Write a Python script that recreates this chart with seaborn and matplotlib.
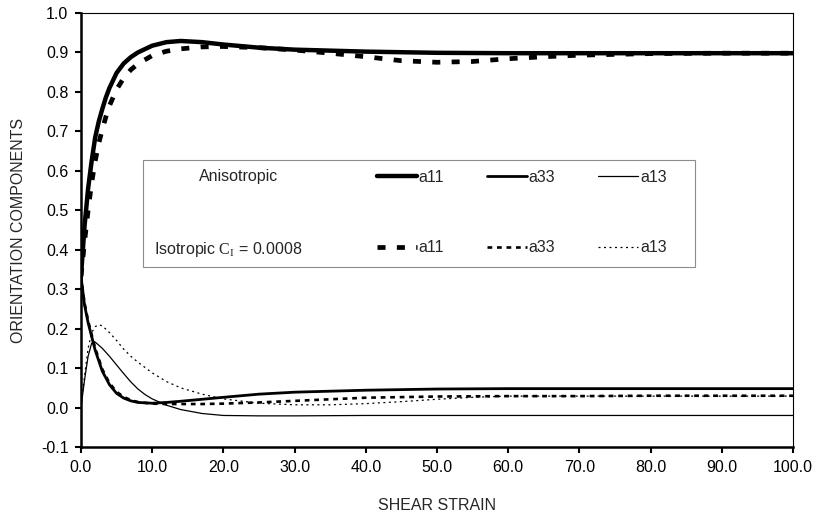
import numpy as np
import pandas as pd
import matplotlib
matplotlib.use("Agg")
import matplotlib.pyplot as plt
import seaborn as sns
from matplotlib.patches import Rectangle

# ---------------- data ----------------
x_aniso_a11 = [0, 0.5, 1, 1.5, 2, 2.5, 3, 3.5, 4, 5, 6, 7, 8, 10, 12, 14, 17, 20, 25, 30, 40, 50, 60, 70, 80, 90, 100]
y_aniso_a11 = [0.333, 0.46, 0.555, 0.625, 0.685, 0.725, 0.757, 0.786, 0.81, 0.848, 0.872, 0.888, 0.90, 0.917,
               0.926, 0.929, 0.926, 0.920, 0.912, 0.907, 0.902, 0.899, 0.898, 0.898, 0.898, 0.898, 0.898]

x_iso_a11 = [0, 0.5, 1, 1.5, 2, 2.5, 3, 3.5, 4, 5, 6, 7, 8, 10, 12, 14, 17, 20, 25, 30, 35, 40, 45, 50, 55, 60, 65,
             70, 80, 90, 100]
y_iso_a11 = [0.333, 0.42, 0.50, 0.57, 0.625, 0.67, 0.705, 0.737, 0.765, 0.806, 0.835, 0.856, 0.871, 0.892, 0.903,
             0.909, 0.914, 0.915, 0.912, 0.906, 0.898, 0.889, 0.879, 0.875, 0.877, 0.884, 0.889, 0.893, 0.897,
             0.898, 0.898]

x_aniso_a33 = [0, 0.5, 1, 1.5, 2, 3, 4, 5, 6, 7, 8, 10, 12, 14, 17, 20, 25, 30, 40, 50, 60, 70, 80, 90, 100]
y_aniso_a33 = [0.333, 0.26, 0.215, 0.18, 0.145, 0.092, 0.058, 0.036, 0.024, 0.017, 0.013, 0.011, 0.013, 0.016,
               0.021, 0.026, 0.034, 0.039, 0.044, 0.047, 0.048, 0.048, 0.048, 0.048, 0.048]

x_iso_a33 = [0, 0.5, 1, 1.5, 2, 3, 4, 5, 6, 7, 8, 10, 12, 14, 17, 20, 25, 30, 35, 40, 50, 60, 70, 80, 90, 100]
y_iso_a33 = [0.333, 0.265, 0.22, 0.185, 0.15, 0.097, 0.062, 0.040, 0.027, 0.019, 0.014, 0.010, 0.009, 0.009,
             0.009, 0.010, 0.013, 0.017, 0.021, 0.025, 0.028, 0.029, 0.029, 0.030, 0.030, 0.030]

x_aniso_a13 = [0, 0.5, 1, 1.5, 2, 3, 4, 5, 6, 7, 8, 9, 10, 12, 14, 17, 20, 25, 30, 40, 50, 60, 70, 80, 90, 100]
y_aniso_a13 = [0.0, 0.07, 0.13, 0.163, 0.166, 0.150, 0.130, 0.108, 0.086, 0.065, 0.047, 0.033, 0.022, 0.006,
               -0.005, -0.015, -0.020, -0.021, -0.021, -0.020, -0.020, -0.020, -0.020, -0.020, -0.020, -0.020]

x_iso_a13 = [0, 0.5, 1, 1.5, 2, 2.5, 3, 4, 5, 6, 7, 8, 10, 12, 14, 17, 20, 25, 30, 35, 40, 45, 50, 55, 60, 70, 80, 90, 100]
y_iso_a13 = [0.0, 0.08, 0.15, 0.19, 0.205, 0.21, 0.207, 0.19, 0.17, 0.148, 0.13, 0.115, 0.088, 0.066, 0.05,
             0.034, 0.022, 0.011, 0.007, 0.007, 0.010, 0.015, 0.021, 0.026, 0.029, 0.029, 0.029, 0.029, 0.029]

components = ["a11", "a33", "a13"]
row_labels = ["Anisotropic", r"Isotropic $\mathrm{C}_\mathrm{I}$ = 0.0008"]
x_ticks = [0, 10, 20, 30, 40, 50, 60, 70, 80, 90, 100]
y_ticks = [-0.1, 0.0, 0.1, 0.2, 0.3, 0.4, 0.5, 0.6, 0.7, 0.8, 0.9, 1.0]
x_title = "SHEAR STRAIN"
y_title = "ORIENTATION COMPONENTS"

# ---------------- style ----------------
sns.set_style("ticks")
plt.rcParams["font.family"] = ["Liberation Sans", "DejaVu Sans"]
plt.rcParams["mathtext.fontset"] = "custom"
plt.rcParams["mathtext.rm"] = "Liberation Serif"
plt.rcParams["mathtext.it"] = "Liberation Serif:italic"

fig = plt.figure(figsize=(8.18, 5.18), dpi=100)
ax = fig.add_axes([0.099, 0.137, 0.8704, 0.838])

series = [
    (x_aniso_a11, y_aniso_a11, "a11", 3.2, "-", 6),
    (x_iso_a11, y_iso_a11, "a11", 3.4, (0, (1.7, 2.4)), 5),
    (x_aniso_a33, y_aniso_a33, "a33", 2.0, "-", 4),
    (x_iso_a33, y_iso_a33, "a33", 1.9, (0, (1.8, 1.8)), 3),
    (x_aniso_a13, y_aniso_a13, "a13", 0.9, "-", 2),
    (x_iso_a13, y_iso_a13, "a13", 0.9, (0, (1.6, 2.8)), 1),
]

for xs, ys, lab, lw, ls, z in series:
    df = pd.DataFrame({"x": xs, "y": ys})
    sns.lineplot(data=df, x="x", y="y", ax=ax, color="black", linewidth=lw,
                 linestyle=ls, label=lab, zorder=z, estimator=None, sort=False)

ax.set_xlim(0, 100)
ax.set_ylim(-0.1, 1.0)
ax.set_xticks(x_ticks)
ax.set_yticks(y_ticks)
ax.set_xticklabels([f"{v:.1f}" for v in x_ticks])
ax.set_yticklabels([f"{v:.1f}" for v in y_ticks])
ax.tick_params(axis="both", direction="out", length=4, width=1.5, labelsize=11.5,
               colors="black", pad=5)
ax.set_xlabel(x_title, fontsize=11.5, labelpad=17)
ax.set_ylabel(y_title, fontsize=11.5, labelpad=11)

for side in ["left", "bottom"]:
    ax.spines[side].set_linewidth(1.8)
    ax.spines[side].set_color("black")
for side in ["top", "right"]:
    ax.spines[side].set_visible(True)
    ax.spines[side].set_linewidth(0.8)
    ax.spines[side].set_color("black")

# legend frame and row labels
frame = Rectangle((0.087, 0.415), 0.775, 0.246, transform=ax.transAxes,
                  facecolor="white", edgecolor="#8c8c8c", linewidth=0.8, zorder=7)
ax.add_patch(frame)
ax.text(0.222, 0.624, row_labels[0], transform=ax.transAxes, ha="center", va="center",
        fontsize=11.5, zorder=8)
ax.text(0.1025, 0.456, row_labels[1], transform=ax.transAxes, ha="left", va="center",
        fontsize=11.5, zorder=8)

handles, labels = ax.get_legend_handles_labels()
leg = ax.legend(handles, labels, ncol=3, loc="center left",
                bbox_to_anchor=(0.4157, 0.540), frameon=False, fontsize=11.5,
                handlelength=2.5, handletextpad=0.1, columnspacing=2.7,
                labelspacing=3.45, borderpad=0, borderaxespad=0)
leg.set_zorder(9)

fig.savefig("out.png", dpi=100, facecolor="white")
